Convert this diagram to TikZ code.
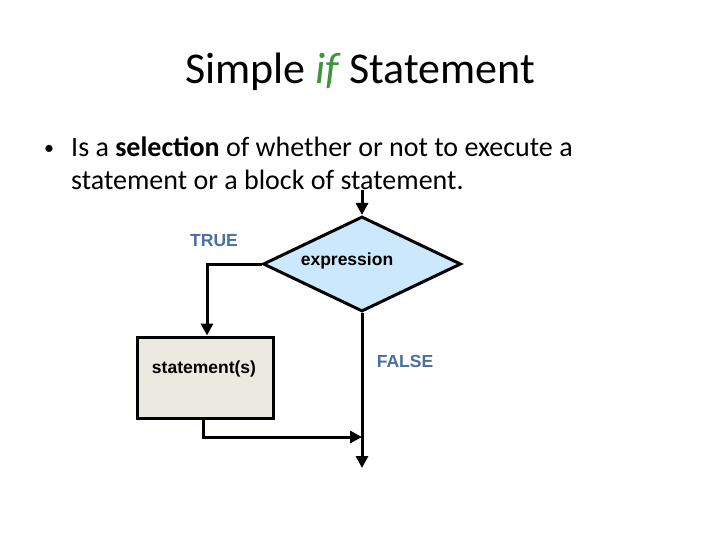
\documentclass[tikz,border=0pt]{standalone}
\usepackage{fontspec}
\setmainfont{Carlito}
\newfontfamily\arialb{Liberation Sans}
\usetikzlibrary{shapes.geometric,arrows.meta}
\definecolor{lblue}{RGB}{204,232,252}
\definecolor{lgray}{RGB}{236,233,224}
\definecolor{lab}{RGB}{72,112,160}
\definecolor{ttl}{RGB}{60,150,60}
\tikzset{
 flow/.style={line width=3pt,-{Triangle[length=12pt,width=12pt]}},
 lbl/.style={font=\arialb\bfseries\fontsize{17.5pt}{20pt}\selectfont,text=lab},
 btxt/.style={font=\arialb\bfseries\fontsize{17.5pt}{20pt}\selectfont},
 body/.style={anchor=base west,inner sep=0pt,font=\fontsize{28pt}{33pt}\selectfont},
}
\begin{document}
\begin{tikzpicture}[x=1pt,y=-1pt]
\useasboundingbox[fill=white] (0,0) rectangle (720,540);
\node[font=\fontsize{44pt}{50pt}\selectfont] (title) at (360,72) {Simple {\color{ttl}\itshape if} Statement};
\node[body,font=\fontsize{20pt}{24pt}\selectfont] (bul) at (44,155) {•};
\node[body] (txt1) at (71,157) {Is a \textbf{selection} of whether or not to execute a};
\node[body] (txt2) at (71,190) {statement or a block of statement.};
\node[diamond,draw,line width=3pt,fill=lblue,minimum width=198pt,minimum height=95pt,inner sep=0pt] (d) at (362,264) {};
\node[btxt] (dtxt) at (347,261) {expression};
\node[draw,line width=3pt,fill=lgray,minimum width=136pt,minimum height=81pt,inner sep=0pt] (s) at (205,377.5) {};
\node[btxt] (stxt) at (204,369) {statement(s)};
\node[lbl] (t) at (214,241) {TRUE};
\node[lbl] (f) at (405,361) {FALSE};
\coordinate (in) at (362,190);
\coordinate (out) at (362,468);
\coordinate (j) at (362,437);
\draw[flow] (in) -- (d.north);
\draw[flow] (d.west) -| (s.north -| 207,0);
\draw[flow] (d.south) -- (out);
\draw[flow] (s.south -| 203,0) |- (j);
\end{tikzpicture}
\end{document}
